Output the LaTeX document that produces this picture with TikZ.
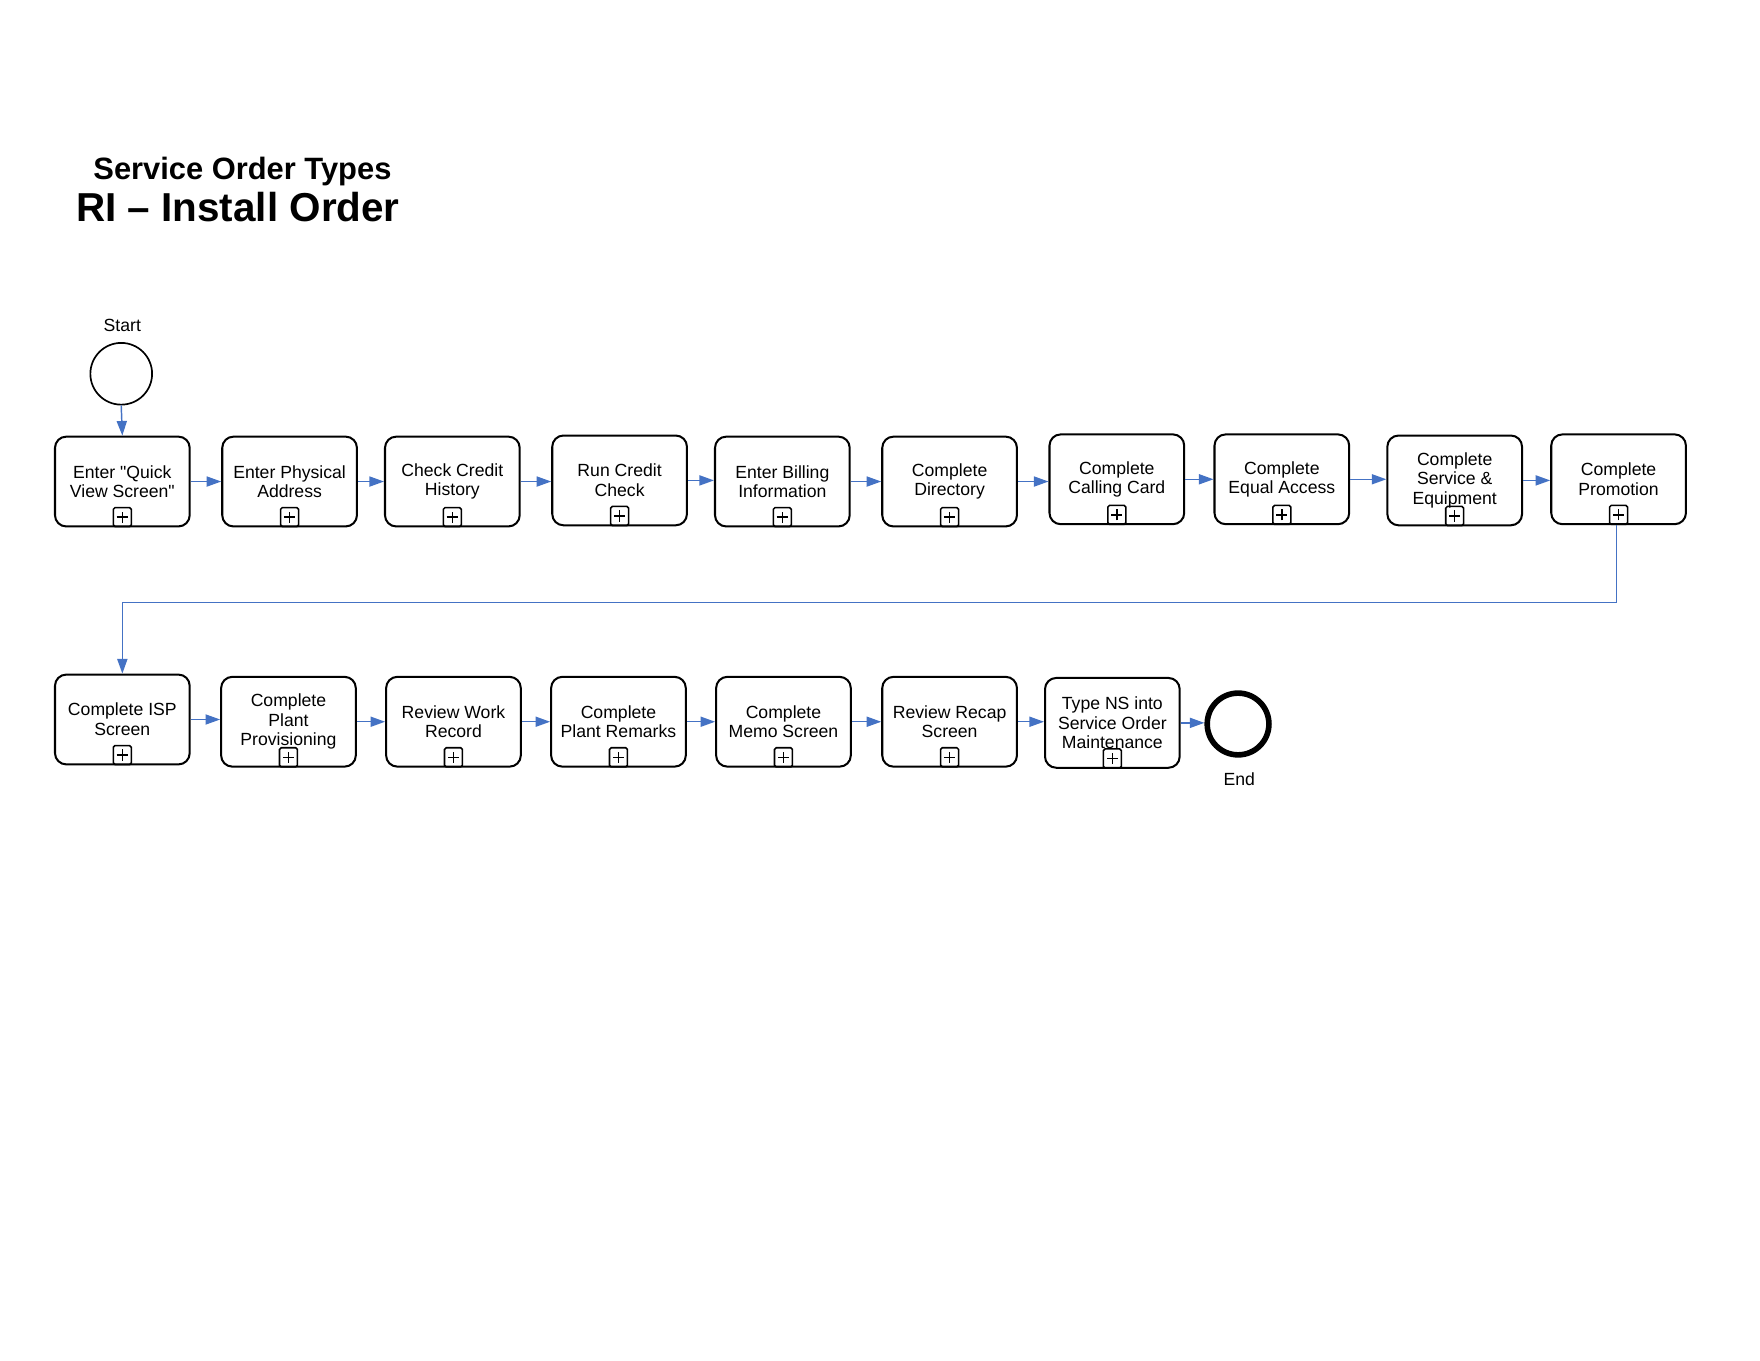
\documentclass[tikz,border=0pt]{standalone}
\usepackage{fontspec}
\setmainfont{Liberation Sans}[Ligatures=TeXOff]
\usetikzlibrary{arrows.meta}
\definecolor{flowblue}{HTML}{4472C4}
\begin{document}
\begin{tikzpicture}[x=1pt,y=-1pt,
  task/.style={draw=black, line width=1.8pt, rounded corners=10pt, minimum width=120pt, minimum height=80pt, inner sep=0pt, align=center, font=\fontsize{15.7}{17.5}\selectfont},
  plusbox/.style={draw=black, line width=1.4pt, rounded corners=1.5pt, minimum width=16pt, minimum height=17pt, inner sep=0pt, anchor=south,
    path picture={\draw[line width=1.3pt] ([xshift=-5pt]path picture bounding box.center) -- ([xshift=5pt]path picture bounding box.center);
                  \draw[line width=1.3pt] ([yshift=-5pt]path picture bounding box.center) -- ([yshift=5pt]path picture bounding box.center);}},
  evstart/.style={circle, draw=black, line width=1.5pt, minimum size=55pt, inner sep=0pt},
  evend/.style={circle, draw=black, line width=5pt, minimum size=55pt, inner sep=0pt},
  lbl/.style={font=\fontsize{15.7}{17.5}\selectfont, inner sep=0pt},
  flow/.style={draw=flowblue, line width=1.3pt, -{Triangle[length=13pt, width=9pt]}}
]
\useasboundingbox (0,0) rectangle (1568,1212);

% titles
\node[anchor=base, inner sep=0pt, font=\fontsize{27.5}{30}\selectfont\bfseries] (t1) at (216,160) {Service Order Types};
\node[anchor=base, inner sep=0pt, font=\fontsize{36}{40}\selectfont\bfseries] (t2) at (212,197) {RI – Install Order};

% start
\node[evstart] (start) at (108,333) {};
\node[lbl] (startlbl) at (109,290) {Start};

% row 1
\node[task] (p1) at (109,429) {Enter "Quick\\View Screen"};
\node[task] (p2) at (258,429) {Enter Physical\\Address};
\node[task] (p3) at (403,429) {Check Credit\\History};
\node[task] (p4) at (552,428) {Run Credit\\Check};
\node[task] (p5) at (697,429) {Enter Billing\\Information};
\node[task] (p6) at (846,429) {Complete\\Directory};
\node[task] (p7) at (995,427) {Complete\\Calling Card};
\node[task] (p8) at (1142,427) {Complete\\Equal Access};
\node[task] (p9) at (1296,428) {Complete\\Service \&\\Equipment};
\node[task] (p10) at (1442,427) {Complete\\Promotion};

% row 2
\node[task] (p11) at (109,641) {Complete ISP\\Screen};
\node[task] (p12) at (257,643) {Complete\\Plant\\Provisioning};
\node[task] (p13) at (404,643) {Review Work\\Record};
\node[task] (p14) at (551,643) {Complete\\Plant Remarks};
\node[task] (p15) at (698,643) {Complete\\Memo Screen};
\node[task] (p16) at (846,643) {Review Recap\\Screen};
\node[task] (p17) at (991,644) {Type NS into\\Service Order\\Maintenance};

% end
\node[evend] (endev) at (1103,645) {};
\node[lbl] (endlbl) at (1104,694) {End};

% sub-process markers
\foreach \i in {1,...,17} {
  \node[plusbox] (m\i) at (p\i.south) {};
}

% flows
\draw[flow] (start.south) -- (p1.north);
\foreach \a/\b in {1/2,2/3,3/4,4/5,5/6,6/7,7/8,8/9,9/10,11/12,12/13,13/14,14/15,15/16,16/17} {
  \draw[flow] (p\a.east) -- (p\a.east -| p\b.west);
}
\draw[flow] (p17.east) -- (p17.east -| endev.west);

\coordinate (turny) at (0,537);
\draw[flow] ([xshift=-2pt]p10.south) -- ([xshift=-2pt]p10.south |- turny) -| (p11.north);
\end{tikzpicture}
\end{document}
